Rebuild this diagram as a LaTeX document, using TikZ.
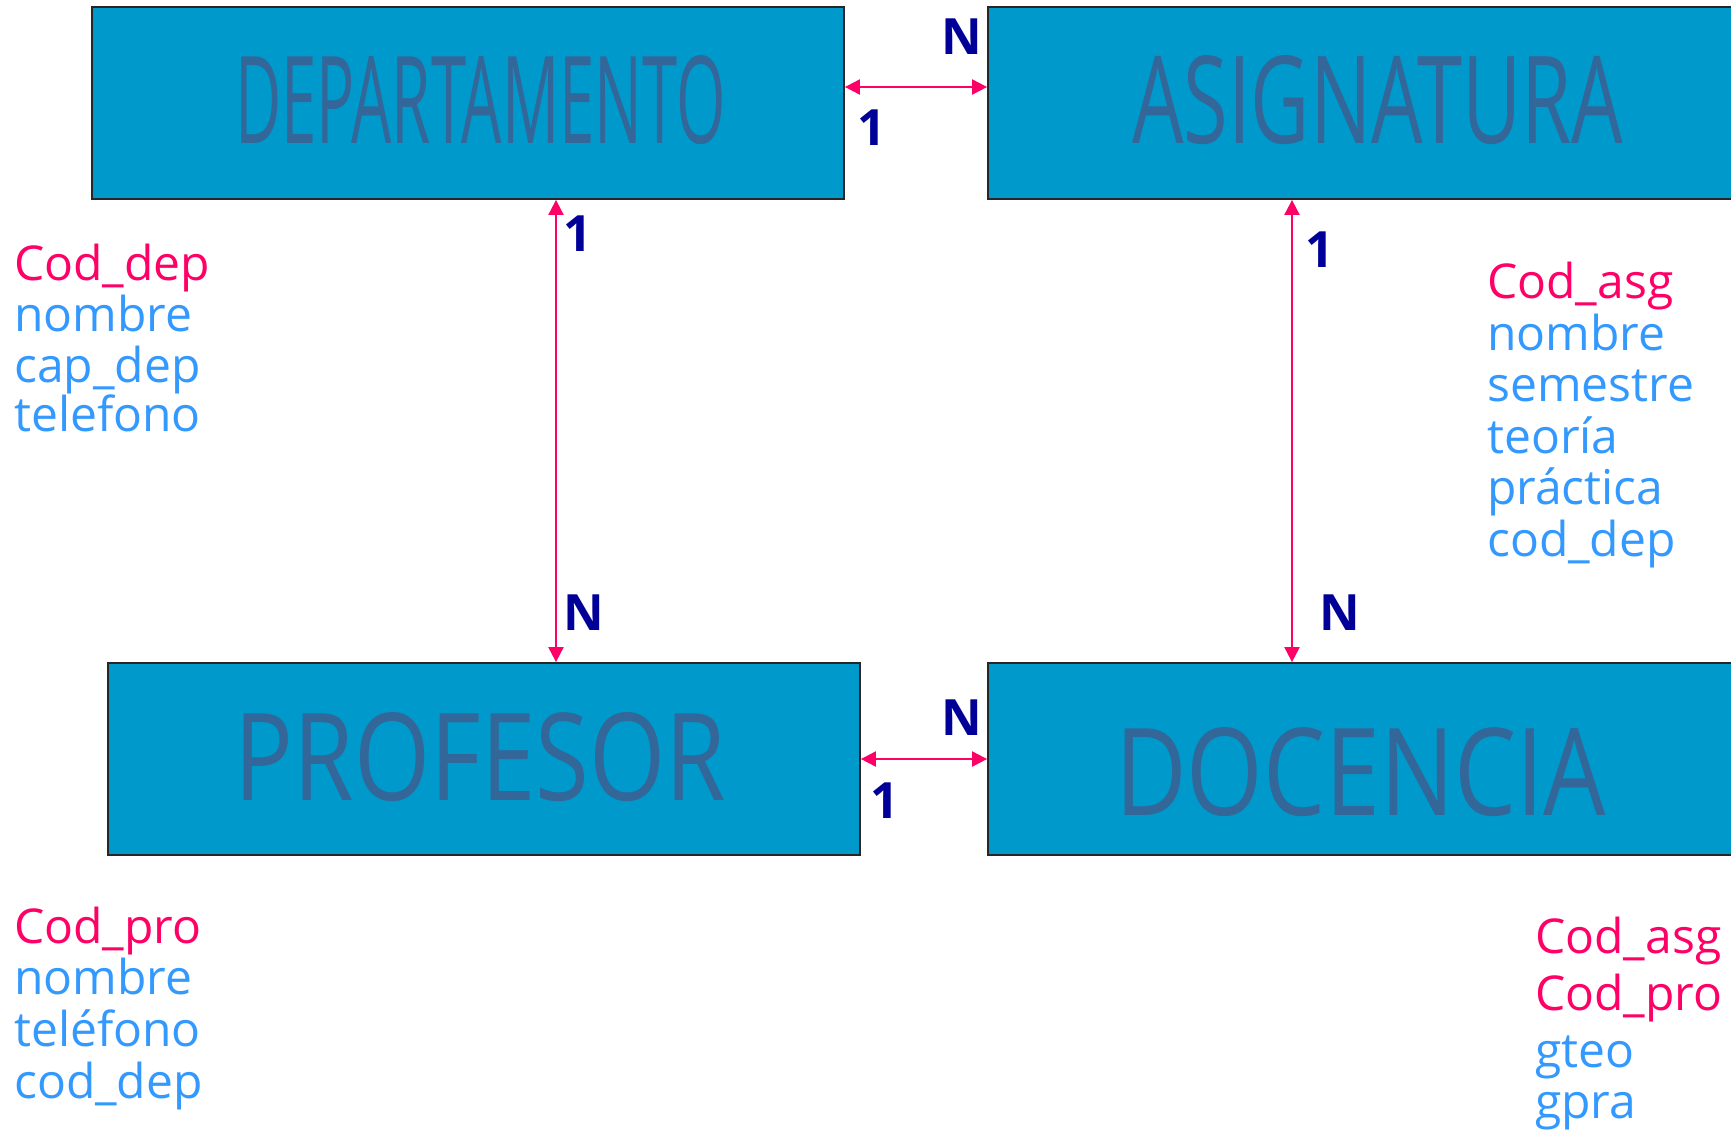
\documentclass[tikz,border=0pt]{standalone}
\usepackage{fontspec}
\setmainfont{Open Sans}
\usetikzlibrary{arrows.meta}
\definecolor{boxfill}{HTML}{0099CC}
\definecolor{titlecol}{HTML}{336699}
\definecolor{keycol}{HTML}{FF0066}
\definecolor{attcol}{HTML}{3399FF}
\definecolor{cardcol}{HTML}{000099}
\definecolor{arrcol}{HTML}{FF0066}
\tikzset{
  ent/.style={draw=black!85, line width=1.8pt, fill=boxfill, minimum width=752pt, minimum height=192pt, inner sep=0pt},
  enttitle/.style={inner sep=0pt, text=titlecol, font=\fontsize{126}{130}\selectfont},
  keyattr/.style={anchor=base west, inner sep=0pt, text=keycol, font=\fontsize{48}{52}\selectfont},
  attr/.style={anchor=base west, inner sep=0pt, text=attcol, font=\fontsize{48}{52}\selectfont},
  card/.style={inner sep=0pt, text=cardcol, font=\fontsize{50}{52}\selectfont\bfseries},
  rel/.style={draw=arrcol, line width=2pt, {Triangle[length=15pt,width=15pt]}-{Triangle[length=15pt,width=15pt]}, fill=arrcol}
}
\begin{document}
\begin{tikzpicture}[x=1pt,y=-1pt]
\useasboundingbox (0,0) rectangle (1731,1133);
\clip (0,0) rectangle (1731,1133);
\fill[white] (0,0) rectangle (1731,1133);

% entity boxes
\node[ent] (dep) at (468,103) {};
\node[ent] (asg) at (1364,103) {};
\node[ent] (prof) at (484,759) {};
\node[ent] (doc) at (1364,759) {};

% titles
\node[enttitle] (tdep) at (480.5,100) {\resizebox{491pt}{88pt}{DEPARTAMENTO}};
\node[enttitle] (tasg) at (1377.5,100) {\resizebox{491pt}{88pt}{ASIGNATURA}};
\node[enttitle] (tprof) at (480.5,757) {\resizebox{491pt}{88pt}{PROFESOR}};
\node[enttitle] (tdoc) at (1360.5,772) {\resizebox{491pt}{88pt}{DOCENCIA}};

% relationships
\draw[rel] ([yshift=16pt]dep.east) -- ([yshift=16pt]asg.west);
\draw[rel] (prof.east) -- (doc.west);
\draw[rel] ([xshift=88pt]dep.south) -- ([xshift=72pt]prof.north);
\draw[rel] ([xshift=-72pt]asg.south) -- ([xshift=-72pt]doc.north);

% cardinalities
\node[card] (c1) at (962,37) {N};
\node[card] (c2) at (872,128) {1};
\node[card] (c3) at (578,234) {1};
\node[card] (c4) at (584,613) {N};
\node[card] (c5) at (1320,250) {1};
\node[card] (c6) at (1340,613) {N};
\node[card] (c7) at (962,718) {N};
\node[card] (c8) at (885,801) {1};

% DEPARTAMENTO attributes
\node[keyattr] (a1) at (14,280) {Cod\_dep};
\node[attr] (a2) at (14,331) {nombre};
\node[attr] (a3) at (14,382) {cap\_dep};
\node[attr] (a4) at (14,431) {telefono};

% ASIGNATURA attributes
\node[keyattr] (b1) at (1487,298) {Cod\_asg};
\node[attr] (b2) at (1487,350) {nombre};
\node[attr] (b3) at (1487,401) {semestre};
\node[attr] (b4) at (1487,453) {teoría};
\node[attr] (b5) at (1487,504) {práctica};
\node[attr] (b6) at (1487,556) {cod\_dep};

% PROFESOR attributes
\node[keyattr] (p1) at (14,943) {Cod\_pro};
\node[attr] (p2) at (14,994) {nombre};
\node[attr] (p3) at (14,1046) {teléfono};
\node[attr] (p4) at (14,1098) {cod\_dep};

% DOCENCIA attributes
\node[keyattr] (d1) at (1535,953) {Cod\_asg};
\node[keyattr] (d2) at (1535,1010) {Cod\_pro};
\node[attr] (d3) at (1535,1067) {gteo};
\node[attr] (d4) at (1535,1118) {gpra};
\end{tikzpicture}
\end{document}
